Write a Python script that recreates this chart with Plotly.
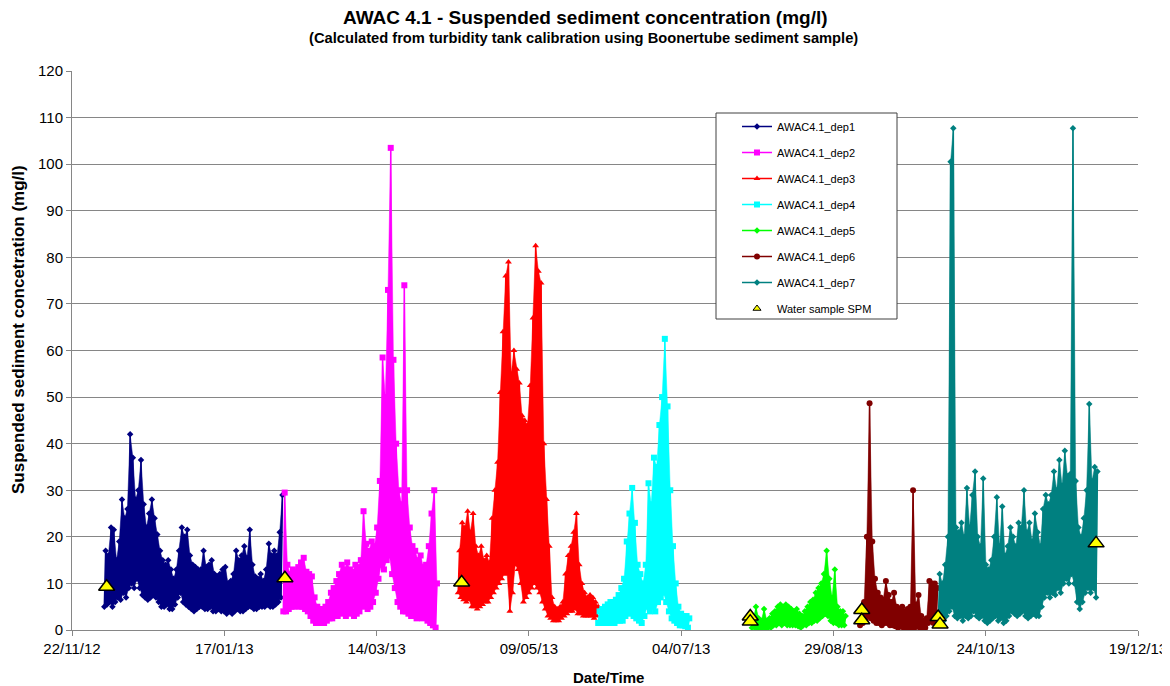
import plotly.graph_objects as go
from datetime import datetime, timedelta

# ---------------- data ----------------
# Each deployment: start time, then one daily trough value (lo) and one daily peak value (hi)
dep1_start = "2012-12-03 21:00"
dep1_hi = [17, 16, 22, 21.5, 15, 19, 28, 24, 26, 42, 37, 28, 30, 36.5, 27, 22, 25, 28, 24, 20.5,
           17, 15, 14, 15, 13, 11, 13, 17, 22, 20, 21.5, 16, 14, 13.5, 13, 13, 17, 13.5, 14, 15,
           12, 11.5, 12, 13, 13.5, 10, 10.5, 12, 17, 15, 16, 18, 15.5, 21.5, 14, 11.5, 11, 12, 10.5, 13,
           18.5, 16, 17, 16, 21, 29]
dep1_lo = [5, 5.5, 6, 5, 6, 7, 6.5, 8, 7, 9, 10, 9, 11, 9, 7.5, 7, 6.5, 7, 7.5, 7,
           6, 5, 5, 5.5, 4.5, 4.5, 5.5, 7, 8, 6, 5.5, 5, 4.5, 4, 4.5, 5, 5, 4.5, 4.5, 5,
           4, 4, 4.5, 4, 4, 3.5, 4, 3.5, 4, 4.5, 4, 4, 4.5, 5, 5, 4.5, 4.5, 5, 5, 5,
           5.5, 5, 5, 5.5, 6, 7]

dep2_start = "2013-02-07 17:00"
dep2_hi = [29.5, 14, 12, 13, 12.5, 13.5, 14.5, 15.5, 12.5, 12, 11.5, 7, 5, 4.5, 4.5, 5, 6, 8, 9, 10.5,
           12, 14, 13, 14.5, 13, 12.5, 14, 13.5, 15, 25.5, 18.5, 17, 19, 18, 22, 32, 58.5, 50, 73, 103.5,
           58, 40, 30, 27, 74, 30, 22, 18, 17, 15, 16, 13.5, 14, 18, 25, 30, 10]
dep2_lo = [4, 4, 4.5, 5, 5, 5.5, 5, 5, 4.5, 4, 3, 2, 1.5, 1.5, 1.5, 1.5, 2, 2.5, 2.5, 3,
           3, 3.5, 4, 3, 3.5, 4, 3, 3.5, 4, 5, 5.5, 4.5, 5, 6, 8, 11, 14, 13, 15, 16,
           12, 9, 6, 5, 4, 4, 3.5, 3, 3, 2.5, 3, 2.5, 3, 2, 1.5, 1, 0.5]

dep3_start = "2013-04-13 00:00"
dep3_hi = [17, 23, 22, 25.5, 21, 25, 18, 16, 18, 15, 16, 14.5, 24, 30, 36, 51, 64, 76, 79, 55,
           60, 56, 53, 46, 45, 44, 52.5, 67, 82.5, 77, 74.5, 40, 28, 18, 7, 5, 4.5, 5, 6, 12,
           16, 18, 21, 25, 14, 10, 8, 7, 7.5, 7, 6, 5]
dep3_lo = [8, 7, 6.5, 6, 6.5, 5, 5, 4.5, 5, 5.5, 6, 6, 7, 8, 9, 10, 11, 12, 12, 4,
           8, 14, 13, 10, 6, 7, 8, 9, 10, 9, 8, 6, 4.5, 3, 2.5, 2, 2, 2, 2.5, 3,
           3.5, 4, 4, 4.5, 3.5, 3.5, 3, 3, 3, 3, 2.5, 3]

dep4_start = "2013-06-03 12:00"
dep4_hi = [4, 4.5, 5, 5.5, 6, 6, 6.5, 7.5, 9, 11, 19, 25, 30.5, 23, 14, 12, 10, 14, 31.5, 27,
           37, 35, 44, 50, 62.5, 48, 30, 18, 10, 5, 3.5, 3, 3, 2.5]
dep4_lo = [1.5, 1.5, 1.5, 1.5, 1.5, 2, 1.5, 2, 2, 2, 3, 4, 3.5, 3, 2.5, 2, 1.5, 3, 5, 4,
           5, 4, 6, 7, 8, 6, 4, 2.5, 2, 1.5, 1, 1, 0.8, 0.5]

dep5_start = "2013-07-30 00:00"
dep5_hi = [2, 5, 2.5, 2, 4.5, 2, 2.5, 3.5, 4, 5, 5.5, 5, 5.5, 5, 4.5, 4, 4.5, 3.5, 3, 4,
           5, 6, 6.5, 8, 9, 10, 12, 17, 11, 7, 13, 5, 4, 4, 3]
dep5_lo = [0.5, 0.5, 0.3, 0.3, 0.5, 0.3, 0.5, 0.5, 1, 1, 1.5, 1, 1.5, 1, 1, 1, 1, 0.8, 0.5, 1,
           1, 1.5, 1.5, 2, 2, 2.5, 3, 3.5, 3, 2, 1.5, 1.5, 1, 1, 1]

dep6_start = "2013-09-07 19:00"
dep6_hi = [4, 6, 20, 48.7, 19, 11, 8, 7, 6.5, 10.5, 7.5, 6, 8, 5, 4.5, 5, 4, 4.5, 5, 30,
           5.5, 7.5, 3, 2, 2.5, 10.5, 10, 10, 9]
dep6_lo = [1, 1.5, 2, 3, 2.5, 2, 1.5, 1.5, 1, 1.5, 1.5, 1, 1, 0.8, 0.5, 0.8, 0.5, 0.5, 0.5, 0.5,
           0.5, 0.8, 0.5, 0.3, 0.5, 1.5, 2, 1.5, 2]

dep7_start = "2013-10-06 14:00"
dep7_hi = [12, 10, 14, 20, 100.5, 107.7, 22, 21, 23, 20, 30.5, 22, 29, 34, 20, 18, 32.5, 14, 13, 15,
           20, 28.5, 18, 26.5, 16, 18, 22, 20, 18, 23, 22, 30, 21, 23, 19, 25, 21, 18, 26, 29,
           27, 29, 34, 30, 36.5, 31, 38.5, 33, 33.5, 107.7, 32, 22, 20, 24, 30, 48.5, 32, 35, 34]
dep7_lo = [2, 1.5, 2, 3, 4, 5, 3, 2.5, 3, 2, 3, 2.5, 3, 4, 3, 2.5, 3, 2, 1.5, 2,
           2.5, 3, 2, 2.5, 1.5, 2, 3, 4, 3.5, 3, 3.5, 4, 3, 2.5, 3, 3.5, 3, 3, 5, 7,
           8, 7, 8, 7.5, 9, 8, 10, 11, 10, 12, 10, 6, 4.5, 6, 8, 9, 8, 9, 7]

sample_times = ["2012-12-04 18:00", "2013-02-08 07:00", "2013-04-14 07:00",
                "2013-07-29 10:00", "2013-07-29 10:00", "2013-09-08 10:00", "2013-09-08 10:00",
                "2013-10-06 12:00", "2013-10-07 05:00", "2013-12-03 14:00"]
sample_spm = [9.3, 11.1, 10.2, 2.9, 1.8, 4.3, 2.1, 2.8, 1.2, 18.6]

series_names = ["AWAC4.1_dep1", "AWAC4.1_dep2", "AWAC4.1_dep3", "AWAC4.1_dep4",
                "AWAC4.1_dep5", "AWAC4.1_dep6", "AWAC4.1_dep7"]
sample_name = "Water sample SPM"

tick_dates = ["2012-11-22", "2013-01-17", "2013-03-14", "2013-05-09",
              "2013-07-04", "2013-08-29", "2013-10-24", "2013-12-19"]
tick_labels = ["22/11/12", "17/01/13", "14/03/13", "09/05/13",
               "04/07/13", "29/08/13", "24/10/13", "19/12/13"]
y_ticks = [0, 10, 20, 30, 40, 50, 60, 70, 80, 90, 100, 110, 120]

# ---------------- styles ----------------
colors = ["#000080", "#FF00FF", "#FF0000", "#00FFFF", "#00FF00", "#800000", "#008080"]
symbols = ["diamond", "square", "triangle-up", "square", "diamond", "circle", "diamond"]
msizes = [5, 6, 6, 6, 5, 6, 5]
FONT = "Arial, Liberation Sans, sans-serif"


def build(start, lo, hi):
    t0 = datetime.fromisoformat(start)
    xs, ys, tl, th = [], [], [], []
    for k, (a, b) in enumerate(zip(lo, hi)):
        ta, tb = t0 + timedelta(days=k), t0 + timedelta(days=k + 0.5)
        xs += [ta, tb]
        ys += [a, b]
        tl.append(ta)
        th.append(tb)
    return xs, ys, tl, th


deps = [(dep1_start, dep1_lo, dep1_hi), (dep2_start, dep2_lo, dep2_hi),
        (dep3_start, dep3_lo, dep3_hi), (dep4_start, dep4_lo, dep4_hi),
        (dep5_start, dep5_lo, dep5_hi), (dep6_start, dep6_lo, dep6_hi),
        (dep7_start, dep7_lo, dep7_hi)]

fig = go.Figure()
for i, (st, lo, hi) in enumerate(deps):
    xs, ys, tl, th = build(st, lo, hi)
    # solid band between the daily troughs and peaks (dense record look)
    fig.add_trace(go.Scatter(
        x=th + tl[::-1], y=list(hi) + list(lo)[::-1], mode="lines", fill="toself",
        fillcolor=colors[i], line=dict(color=colors[i], width=0.5),
        showlegend=False, hoverinfo="skip",
    ))
    fig.add_trace(go.Scatter(
        x=xs, y=ys, mode="lines+markers", name=series_names[i],
        legendgroup=series_names[i],
        line=dict(color=colors[i], width=1.5),
        marker=dict(symbol=symbols[i], size=msizes[i], color=colors[i]),
    ))

fig.add_trace(go.Scatter(
    x=sample_times, y=sample_spm, mode="markers", name=sample_name, showlegend=False,
    marker=dict(symbol="triangle-up", size=14, color="#FFFF00",
                line=dict(color="black", width=1.5)),
))
fig.add_trace(go.Scatter(
    x=[None], y=[None], mode="markers", name=sample_name, legendgroup=sample_name,
    marker=dict(symbol="triangle-up", size=7, color="#FFFF00",
                line=dict(color="black", width=1)),
))

# page has an 8px body margin: the figure is drawn 8px right/down of the window origin
OFF = 8
W, H = 1170 - OFF, 686 - OFF
PL, PR, PT, PB = 72 - OFF, 1170 - 1138, 71 - OFF, 686 - 630
pw, ph = W - PL - PR, H - PT - PB


def px(x):
    return (x - OFF - PL) / pw


def py(y):
    return (H - PB - (y - OFF)) / ph


def note(text, x, y, size, angle=0):
    return dict(text=text, xref="paper", yref="paper", x=px(x), y=py(y),
                xanchor="center", yanchor="middle", showarrow=False, textangle=angle,
                font=dict(size=size, family=FONT, color="black"))


fig.update_layout(
    width=W, height=H,
    margin=dict(l=PL, r=PR, t=PT, b=PB, autoexpand=False),
    paper_bgcolor="white", plot_bgcolor="white",
    font=dict(family=FONT, color="black"),
    showlegend=True,
    legend=dict(x=px(737), y=py(112), xanchor="left", yanchor="top",
                bgcolor="rgba(0,0,0,0)", borderwidth=0,
                font=dict(size=11, family=FONT, color="black"),
                tracegroupgap=7, itemwidth=30),
    xaxis=dict(type="date", range=["2012-11-22", "2013-12-19"], automargin=False,
               tickmode="array", tickvals=tick_dates, ticktext=tick_labels,
               ticks="outside", ticklen=5, tickcolor="#868686",
               showline=True, linecolor="#868686", linewidth=1,
               showgrid=False, zeroline=False,
               tickfont=dict(size=15, family=FONT, color="black")),
    yaxis=dict(range=[0, 120], tickmode="array", tickvals=y_ticks, automargin=False,
               ticks="outside", ticklen=5, tickcolor="#868686",
               showline=True, linecolor="#868686", linewidth=1,
               showgrid=True, gridcolor="#868686", gridwidth=1, zeroline=False,
               tickfont=dict(size=15, family=FONT, color="black")),
    shapes=[dict(type="rect", xref="paper", yref="paper",
                 x0=px(716), x1=px(897), y0=py(319), y1=py(113),
                 fillcolor="white", line=dict(color="#404040", width=1), layer="above")],
    annotations=[
        note("<b>AWAC 4.1 - Suspended sediment concentration (mg/l)</b>", 585, 18, 19),
        note("<b>(Calculated from turbidity tank calibration using Boonertube sediment sample)</b>",
             583, 38, 14.7),
        note("<b>Suspended sediment concetration (mg/l)</b>", 18, 330, 17, -90),
        note("<b>Date/Time</b>", 608, 678, 15),
    ],
)

fig.write_html("out.html")
